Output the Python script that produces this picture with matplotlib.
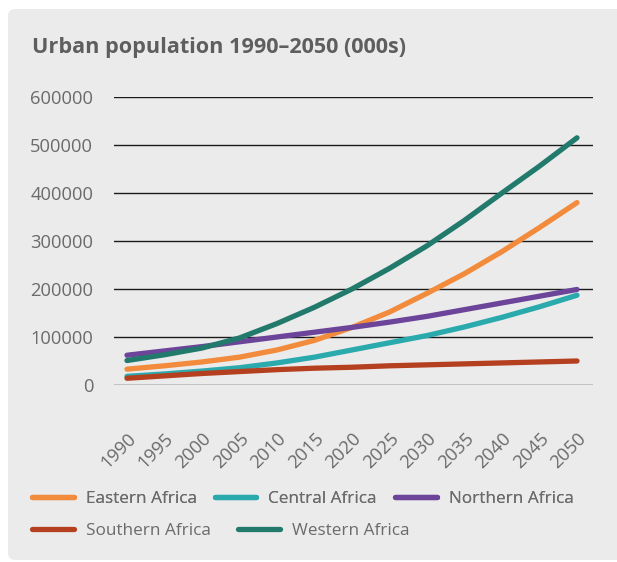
import matplotlib.pyplot as plt
from matplotlib.patches import FancyBboxPatch

# Data (thousands of people)
years = list(range(1990, 2051, 5))
eastern = [33000, 40000, 48000, 58000, 73000, 93000, 120000, 152000, 191000, 232000, 278000, 328000, 380000]
central = [18000, 23000, 29000, 36000, 46000, 58000, 73000, 88000, 103000, 121000, 141000, 163000, 187000]
northern = [62000, 71000, 80000, 90000, 100000, 110000, 120000, 131000, 143000, 157000, 171000, 185000, 199000]
southern = [14000, 19000, 24000, 28000, 32000, 35000, 37000, 40000, 42000, 44000, 46000, 48000, 50000]
western = [51000, 63000, 77000, 98000, 128000, 162000, 200000, 243000, 290000, 343000, 400000, 456000, 515000]

labels = ['Eastern Africa', 'Central Africa', 'Northern Africa', 'Southern Africa', 'Western Africa']
colors = ['#F28B3C', '#2BAAAE', '#6C449A', '#B5401F', '#217A6B']
series = [eastern, central, northern, southern, western]

plt.rcParams['font.family'] = ['Open Sans', 'DejaVu Sans']
txt = '#6B6B6B'

fig = plt.figure(figsize=(6.17, 5.62), dpi=100)
fig.patch.set_facecolor('white')

# grey panel behind everything
panel = FancyBboxPatch((8 / 617, 2 / 562), 620 / 617, 551 / 562,
                       boxstyle='round,pad=0,rounding_size=0.012',
                       transform=fig.transFigure, facecolor='#EBEBEB',
                       edgecolor='none', zorder=-10)
fig.patches.append(panel)

fig.text(32 / 617, 1 - 48 / 562, 'Urban population 1990–2050 (000s)',
         fontsize=15.6, fontweight='bold', color='#5E5E5E', va='center', ha='left')

ax = fig.add_axes([114 / 617, 1 - 385 / 562, 479 / 617, 288 / 562])
ax.set_zorder(1)
ax.set_facecolor('none')

lines = []
for vals, lab, col in zip(series, labels, colors):
    ln, = ax.plot(years, vals, color=col, lw=3.8, solid_capstyle='round',
                  label=lab, clip_on=False, zorder=3)
    lines.append(ln)

ax.set_xlim(1990 - 13 / 7.5, 2050 + 16 / 7.5)
ax.set_ylim(0, 600000)
ax.set_yticks(range(0, 600001, 100000))
ax.set_yticklabels([str(v) for v in range(0, 600001, 100000)])
ax.set_xticks(years)
ax.set_xticklabels([str(y) for y in years], rotation=45, ha='right',
                   rotation_mode='anchor')
ax.yaxis.grid(True, color='#1A1A1A', lw=1.0)
ax.set_axisbelow(True)
for s in ax.spines.values():
    s.set_visible(False)
ax.tick_params(axis='both', length=0, labelsize=13.2, labelcolor=txt)
ax.tick_params(axis='y', pad=15)
ax.tick_params(axis='x', pad=32)

# legend, two rows as in the original
leg1 = fig.legend(lines[:3], labels[:3], loc='upper left', ncol=3,
                  bbox_to_anchor=(25 / 617, 1 - 484 / 562), frameon=False,
                  fontsize=12.3, labelcolor=txt, handlelength=2.45,
                  handletextpad=0.7, columnspacing=1.05, borderaxespad=0)
fig.legend(lines[3:], labels[3:], loc='upper left', ncol=2,
           bbox_to_anchor=(25 / 617, 1 - 516 / 562), frameon=False,
           fontsize=12.3, labelcolor=txt, handlelength=2.45,
           handletextpad=0.7, columnspacing=1.6, borderaxespad=0)
fig.add_artist(leg1)

fig.savefig('out.png', dpi=100)
